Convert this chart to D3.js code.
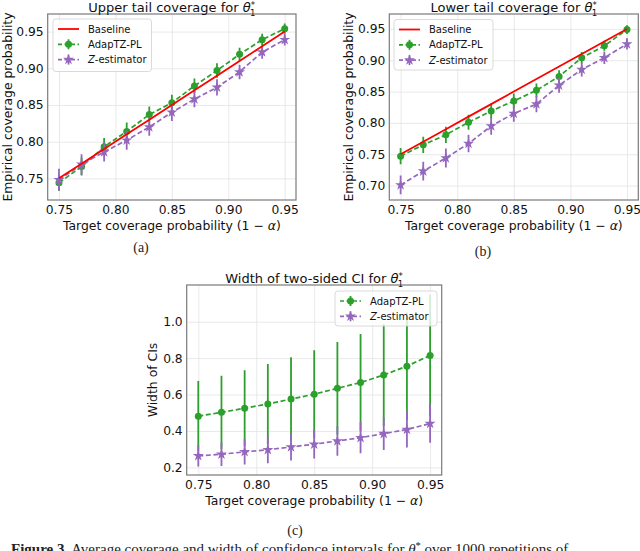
<!DOCTYPE html>
<html>
<head>
<meta charset="utf-8">
<script src="https://cdn.jsdelivr.net/npm/d3@7"></script>
<style>
  body { margin: 0; background: #fff; }
  svg { display: block; }
</style>
</head>
<body>
<div id="chart"></div>
<script>
// target coverage levels (x axis of every panel)
const TARGET = [0.75, 0.77, 0.79, 0.81, 0.83, 0.85, 0.87, 0.89, 0.91, 0.93, 0.95];
const BASELINE = [0.75, 0.77, 0.79, 0.81, 0.83, 0.85, 0.87, 0.89, 0.91, 0.93, 0.95];

// (a) upper tail coverage
const UPPER_ADAP     = [0.744, 0.766, 0.793, 0.814, 0.837, 0.853, 0.876, 0.897, 0.919, 0.939, 0.954];
const UPPER_ADAP_ERR = [0.011, 0.012, 0.012, 0.012, 0.011, 0.011, 0.010, 0.010, 0.009, 0.008, 0.007];
const UPPER_Z        = [0.748, 0.769, 0.786, 0.802, 0.820, 0.840, 0.858, 0.874, 0.895, 0.922, 0.939];
const UPPER_Z_ERR    = [0.015, 0.014, 0.013, 0.013, 0.012, 0.012, 0.011, 0.011, 0.010, 0.009, 0.008];

// (b) lower tail coverage
const LOWER_ADAP     = [0.747, 0.765, 0.781, 0.801, 0.819, 0.835, 0.852, 0.874, 0.904, 0.923, 0.949];
const LOWER_ADAP_ERR = [0.013, 0.013, 0.013, 0.012, 0.012, 0.012, 0.011, 0.010, 0.009, 0.008, 0.007];
const LOWER_Z        = [0.701, 0.723, 0.744, 0.767, 0.795, 0.815, 0.830, 0.860, 0.885, 0.904, 0.926];
const LOWER_Z_ERR    = [0.015, 0.015, 0.015, 0.014, 0.014, 0.013, 0.013, 0.012, 0.011, 0.010, 0.009];

// (c) width of two-sided CI
const WIDTH_ADAP     = [0.481, 0.502, 0.525, 0.548, 0.575, 0.602, 0.634, 0.666, 0.707, 0.756, 0.815];
const WIDTH_ADAP_ERR = [0.193, 0.201, 0.209, 0.219, 0.230, 0.241, 0.254, 0.267, 0.280, 0.294, 0.335];
const WIDTH_Z        = [0.263, 0.272, 0.285, 0.297, 0.312, 0.327, 0.345, 0.363, 0.385, 0.408, 0.441];
const WIDTH_Z_ERR    = [0.058, 0.064, 0.070, 0.075, 0.074, 0.078, 0.081, 0.086, 0.090, 0.099, 0.106];

// tick labels
const X_TICKS = [0.75, 0.80, 0.85, 0.90, 0.95];
const Y_TICKS_A = [0.75, 0.80, 0.85, 0.90, 0.95];
const Y_TICKS_B = [0.70, 0.75, 0.80, 0.85, 0.90, 0.95];
const Y_TICKS_C = [0.2, 0.4, 0.6, 0.8, 1.0];

const W = 640, H = 551;
const FONT = "DejaVu Sans, sans-serif";
const SERIF = "Liberation Serif, DejaVu Serif, serif";
const RED = "#ff0000", GREEN = "#2ca02c", PURPLE = "#9467bd";

const svg = d3.select("#chart").append("svg")
  .attr("width", W).attr("height", H)
  .style("font-family", FONT);

const star = d3.symbol().type(d3.symbolStar).size(38);

function series(values, errs) {
  return TARGET.map((x, i) => ({ x: x, y: values[i], e: errs ? errs[i] : 0 }));
}

// write "θ₁*" style math after a text prefix
function addTheta(text) {
  text.append("tspan").attr("font-style", "italic").text("θ");
  text.append("tspan").attr("font-size", "0.66em").attr("dy", -4).text("*");
  text.append("tspan").attr("font-size", "0.66em").attr("dx", -5).attr("dy", 8).text("1");
}

function drawPanel(cfg) {
  const x = d3.scaleLinear().domain([0.74, 0.96]).range([cfg.left, cfg.right]);
  const y = d3.scaleLinear().domain(cfg.yDomain).range([cfg.bottom, cfg.top]);
  const g = svg.append("g");

  // grid
  g.append("g").attr("transform", `translate(0,${cfg.bottom})`)
    .call(d3.axisBottom(x).tickValues(X_TICKS).tickSize(-(cfg.bottom - cfg.top)).tickFormat(""))
    .call(s => s.select(".domain").remove())
    .call(s => s.selectAll("line").attr("stroke", "#e3e3e3").attr("stroke-width", 0.8));
  g.append("g").attr("transform", `translate(${cfg.left},0)`)
    .call(d3.axisLeft(y).tickValues(cfg.yTicks).tickSize(-(cfg.right - cfg.left)).tickFormat(""))
    .call(s => s.select(".domain").remove())
    .call(s => s.selectAll("line").attr("stroke", "#e3e3e3").attr("stroke-width", 0.8));

  // tick labels
  g.append("g").attr("transform", `translate(0,${cfg.bottom})`)
    .call(d3.axisBottom(x).tickValues(X_TICKS).tickSize(0).tickPadding(5).tickFormat(d3.format(".2f")))
    .call(s => s.select(".domain").remove())
    .call(s => s.selectAll("text").attr("font-family", FONT).attr("font-size", 12.3).attr("fill", "#111"));
  g.append("g").attr("transform", `translate(${cfg.left},0)`)
    .call(d3.axisLeft(y).tickValues(cfg.yTicks).tickSize(0).tickPadding(4).tickFormat(d3.format(cfg.yFmt)))
    .call(s => s.select(".domain").remove())
    .call(s => s.selectAll("text").attr("font-family", FONT).attr("font-size", 12.3).attr("fill", "#111"));

  const clipId = "clip" + cfg.id;
  g.append("clipPath").attr("id", clipId).append("rect")
    .attr("x", cfg.left).attr("y", cfg.top)
    .attr("width", cfg.right - cfg.left).attr("height", cfg.bottom - cfg.top);
  const plot = g.append("g").attr("clip-path", `url(#${clipId})`);

  const line = d3.line().x(d => x(d.x)).y(d => y(d.y));

  // error-bar series
  cfg.series.forEach(s => {
    const data = series(s.values, s.errs);
    const sg = plot.append("g");
    sg.append("path").datum(data).attr("d", line)
      .attr("fill", "none").attr("stroke", s.color).attr("stroke-width", 1.7)
      .attr("stroke-dasharray", "5,2.6");
    sg.selectAll("line.err").data(data).enter().append("line")
      .attr("x1", d => x(d.x)).attr("x2", d => x(d.x))
      .attr("y1", d => y(d.y - d.e)).attr("y2", d => y(d.y + d.e))
      .attr("stroke", s.color).attr("stroke-width", 1.8);
    if (s.marker === "circle") {
      sg.selectAll("circle").data(data).enter().append("circle")
        .attr("cx", d => x(d.x)).attr("cy", d => y(d.y)).attr("r", 3.5)
        .attr("fill", s.color);
    } else {
      sg.selectAll("path.mk").data(data).enter().append("path")
        .attr("d", star).attr("transform", d => `translate(${x(d.x)},${y(d.y)})`)
        .attr("fill", s.color);
    }
  });

  // baseline on top of the error bars
  if (cfg.baseline) {
    plot.append("path").datum(series(BASELINE)).attr("d", line)
      .attr("fill", "none").attr("stroke", RED).attr("stroke-width", 1.8);
  }

  // frame
  g.append("rect").attr("x", cfg.left).attr("y", cfg.top)
    .attr("width", cfg.right - cfg.left).attr("height", cfg.bottom - cfg.top)
    .attr("fill", "none").attr("stroke", "#7a7a7a").attr("stroke-width", 1.2);

  // title
  const t = g.append("text").attr("x", (cfg.left + cfg.right) / 2).attr("y", cfg.top - 2.5)
    .attr("text-anchor", "middle").attr("font-size", 13).attr("fill", "#111")
    .text(cfg.title);
  addTheta(t);

  // axis labels
  const xl = g.append("text").attr("x", (cfg.left + cfg.right) / 2).attr("y", cfg.bottom + 30)
    .attr("text-anchor", "middle").attr("font-size", 12.4).attr("fill", "#111")
    .text("Target coverage probability (1 − ");
  xl.append("tspan").attr("font-style", "italic").text("α");
  xl.append("tspan").text(")");
  g.append("text")
    .attr("transform", `translate(${cfg.ylabelX},${(cfg.top + cfg.bottom) / 2}) rotate(-90)`)
    .attr("text-anchor", "middle").attr("font-size", 12.4).attr("fill", "#111")
    .text(cfg.ylabel);

  // legend
  const lg = g.append("g");
  lg.append("rect").attr("x", cfg.legend.x).attr("y", cfg.legend.y)
    .attr("width", cfg.legend.w).attr("height", cfg.legend.h).attr("rx", 3)
    .attr("fill", "#fff").attr("fill-opacity", 0.8).attr("stroke", "#d0d0d0").attr("stroke-width", 0.8);
  cfg.legend.items.forEach((it, i) => {
    const ly = cfg.legend.y + 10 + i * 15.3;
    const lx = cfg.legend.x + 5;
    if (it.kind === "base") {
      lg.append("line").attr("x1", lx).attr("x2", lx + 21).attr("y1", ly).attr("y2", ly)
        .attr("stroke", RED).attr("stroke-width", 1.8);
    } else {
      lg.append("line").attr("x1", lx).attr("x2", lx + 21).attr("y1", ly).attr("y2", ly)
        .attr("stroke", it.color).attr("stroke-width", 1.7).attr("stroke-dasharray", "4,2.5");
      lg.append("line").attr("x1", lx + 10.5).attr("x2", lx + 10.5).attr("y1", ly - 5).attr("y2", ly + 5)
        .attr("stroke", it.color).attr("stroke-width", 1.8);
      if (it.kind === "circle") {
        lg.append("circle").attr("cx", lx + 10.5).attr("cy", ly).attr("r", 3.5).attr("fill", it.color);
      } else {
        lg.append("path").attr("d", star).attr("transform", `translate(${lx + 10.5},${ly})`).attr("fill", it.color);
      }
    }
    const lt = lg.append("text").attr("x", lx + 30).attr("y", ly + 3.6)
      .attr("font-size", 10).attr("fill", "#111");
    if (it.label === "Z-estimator") {
      lt.append("tspan").attr("font-style", "italic").text("Z");
      lt.append("tspan").text("-estimator");
    } else {
      lt.text(it.label);
    }
  });

  // sub-figure tag
  svg.append("text").attr("x", cfg.tagX).attr("y", cfg.tagY)
    .attr("text-anchor", "middle").attr("font-family", SERIF).attr("font-size", 14).attr("fill", "#222")
    .text(cfg.tag);
}

const legend3 = [
  { kind: "base", label: "Baseline" },
  { kind: "circle", color: GREEN, label: "AdapTZ-PL" },
  { kind: "star", color: PURPLE, label: "Z-estimator" }
];

drawPanel({
  id: "a", left: 47.7, right: 296, top: 14, bottom: 200,
  yDomain: [0.7205, 0.974], yTicks: Y_TICKS_A, yFmt: ".2f",
  title: "Upper tail coverage for ", ylabel: "Empirical coverage probability", ylabelX: 12,
  baseline: true,
  series: [
    { values: UPPER_ADAP, errs: UPPER_ADAP_ERR, color: GREEN, marker: "circle" },
    { values: UPPER_Z, errs: UPPER_Z_ERR, color: PURPLE, marker: "star" }
  ],
  legend: { x: 53, y: 19, w: 98.5, h: 52.5, items: legend3 },
  tag: "(a)", tagX: 141, tagY: 252
});

drawPanel({
  id: "b", left: 389.3, right: 638.3, top: 14, bottom: 200,
  yDomain: [0.677, 0.9738], yTicks: Y_TICKS_B, yFmt: ".2f",
  title: "Lower tail coverage for ", ylabel: "Empirical coverage probability", ylabelX: 353,
  baseline: true,
  series: [
    { values: LOWER_ADAP, errs: LOWER_ADAP_ERR, color: GREEN, marker: "circle" },
    { values: LOWER_Z, errs: LOWER_Z_ERR, color: PURPLE, marker: "star" }
  ],
  legend: { x: 394, y: 19.5, w: 99, h: 50.5, items: legend3 },
  tag: "(b)", tagX: 483, tagY: 256
});

drawPanel({
  id: "c", left: 186.7, right: 441.7, top: 285, bottom: 475,
  yDomain: [0.158, 1.2016], yTicks: Y_TICKS_C, yFmt: ".1f",
  title: "Width of two-sided CI for ", ylabel: "Width of CIs", ylabelX: 157,
  baseline: false,
  series: [
    { values: WIDTH_ADAP, errs: WIDTH_ADAP_ERR, color: GREEN, marker: "circle" },
    { values: WIDTH_Z, errs: WIDTH_Z_ERR, color: PURPLE, marker: "star" }
  ],
  legend: { x: 335, y: 291, w: 102, h: 35, items: legend3.slice(1) },
  tag: "(c)", tagX: 295, tagY: 535
});

// figure caption (runs off the bottom edge in the source)
const cap = svg.append("text").attr("x", 11).attr("y", 554)
  .attr("font-family", SERIF).attr("font-size", 15).attr("fill", "#222");
cap.append("tspan").attr("font-weight", "bold").text("Figure 3.");
cap.append("tspan").text("  Average coverage and width of confidence intervals for ");
cap.append("tspan").attr("font-style", "italic").text("θ");
cap.append("tspan").attr("font-size", "0.7em").attr("dy", -5).text("*");
cap.append("tspan").attr("dy", 5).text(" over 1000 repetitions of");
</script>
</body>
</html>
